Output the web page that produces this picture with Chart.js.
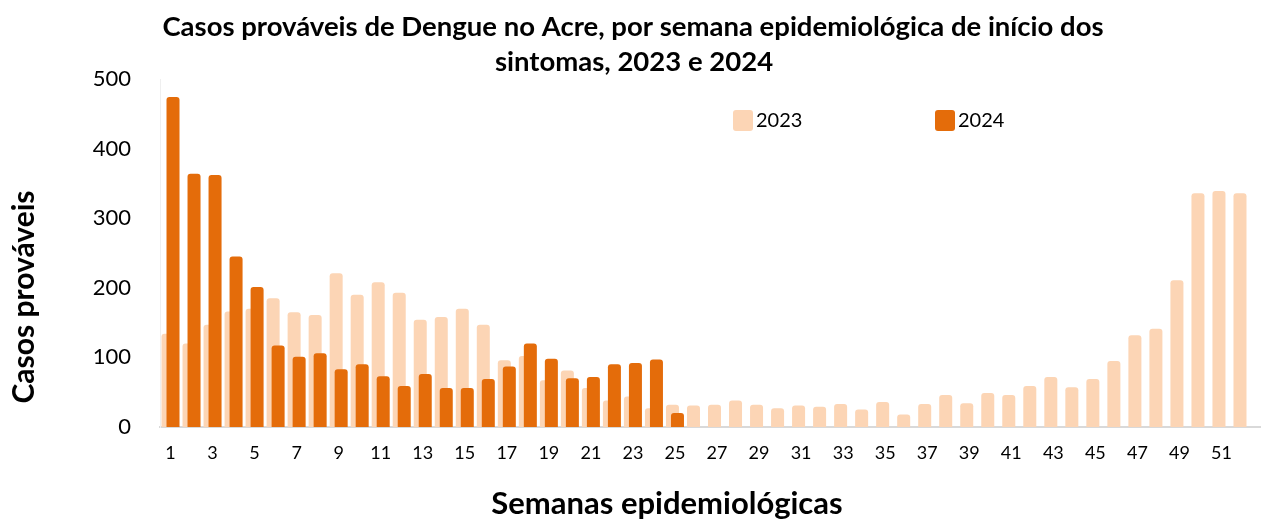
<!DOCTYPE html>
<html>
<head>
<meta charset="utf-8">
<script src="https://cdn.jsdelivr.net/npm/chart.js@4"></script>
<style>
html,body{margin:0;padding:0;background:#fff;}
#wrap{width:1261px;height:520px;position:relative;}
</style>
</head>
<body>
<div id="wrap"><canvas id="c"></canvas></div>
<script>
const weeks = ["1","2","3","4","5","6","7","8","9","10","11","12","13","14","15","16","17","18","19","20","21","22","23","24","25","26","27","28","29","30","31","32","33","34","35","36","37","38","39","40","41","42","43","44","45","46","47","48","49","50","51","52"];
const cases2023 = [134,120,147,166,170,185,165,161,221,190,208,193,154,158,170,147,96,102,67,81,56,38,44,27,32,31,32,38,32,27,31,29,33,25,36,18,33,46,34,49,46,59,72,57,69,95,132,141,211,336,339,336];
const cases2024 = [474,364,362,245,201,117,101,106,83,90,73,59,76,56,56,69,87,120,98,70,72,90,92,97,20];
const yTicks = [0,100,200,300,400,500];
const seriesNames = ["2023","2024"];
const titleLines = ["Casos prováveis de Dengue no Acre, por semana epidemiológica de início dos","sintomas, 2023 e 2024"];
const xTitle = "Semanas epidemiológicas";
const yTitle = "Casos prováveis";

const C2023 = "#FCD5B5";
const C2024 = "#E46C0A";
const FONT = "Lato, 'Open Sans', sans-serif";

// draw 2023 (dataset 0) behind 2024 while keeping it in the left slot
const backFirst = {
  id: "backFirst",
  beforeDatasetsDraw(chart) {
    const meta = chart.getDatasetMeta(0);
    if (meta && !meta.hidden) meta.controller.draw();
  },
  beforeDatasetDraw(chart, args) {
    if (args.index === 0) return false;
  }
};

const decor = {
  id: "decor",
  beforeDatasetsDraw(chart) {
    const ctx = chart.ctx;
    const ca = chart.chartArea;
    ctx.save();
    ctx.strokeStyle = "#D9D9D9";
    ctx.lineWidth = 2;
    ctx.beginPath();
    ctx.moveTo(ca.right - 2, ca.bottom);
    ctx.lineTo(chart.width, ca.bottom);
    ctx.stroke();
    ctx.restore();
  },
  afterDraw(chart) {
    const ctx = chart.ctx;
    ctx.save();
    ctx.fillStyle = "#000";
    ctx.textAlign = "center";
    ctx.textBaseline = "middle";
    ctx.font = "bold 27.5px " + FONT;
    ctx.fillText(titleLines[0], 633, 27);
    ctx.fillText(titleLines[1], 634, 62);
    ctx.font = "bold 31px " + FONT;
    ctx.fillText(xTitle, 667, 504);
    ctx.font = "bold 30px " + FONT;
    ctx.save();
    ctx.translate(24, 297);
    ctx.rotate(-Math.PI / 2);
    ctx.fillText(yTitle, 0, 0);
    ctx.restore();
    const items = [{t: seriesNames[0], c: C2023, x: 733}, {t: seriesNames[1], c: C2024, x: 935}];
    ctx.font = "20px " + FONT;
    ctx.textAlign = "left";
    items.forEach(it => {
      ctx.fillStyle = it.c;
      ctx.beginPath();
      ctx.roundRect(it.x, 110, 20, 21, 3);
      ctx.fill();
      ctx.fillStyle = "#000";
      ctx.fillText(it.t, it.x + 23, 121);
    });
    ctx.restore();
  }
};

new Chart(document.getElementById("c"), {
  type: "bar",
  data: {
    labels: weeks,
    datasets: [
      {label: seriesNames[0], data: cases2023, backgroundColor: C2023, borderRadius: {topLeft: 3, topRight: 3}, borderSkipped: "start"},
      {label: seriesNames[1], data: cases2024, backgroundColor: C2024, borderRadius: {topLeft: 3, topRight: 3}, borderSkipped: "start"}
    ]
  },
  options: {
    responsive: true,
    maintainAspectRatio: false,
    animation: false,
    layout: {padding: {top: 79, right: 8, left: 0, bottom: 0}},
    datasets: {bar: {categoryPercentage: 0.476, barPercentage: 2.6, grouped: true}},
    plugins: {legend: {display: false}, title: {display: false}, tooltip: {enabled: false}},
    scales: {
      x: {
        grid: {display: false, drawTicks: false},
        border: {display: true, color: "#D9D9D9", width: 2},
        ticks: {
          autoSkip: false, maxRotation: 0, padding: 15, color: "#000",
          font: {family: FONT, size: 18},
          callback: function(v, i) { return i % 2 === 0 ? weeks[i] : ""; }
        },
        afterFit(scale) { scale.height = 93; }
      },
      y: {
        min: 0, max: 500,
        afterBuildTicks(scale) { scale.ticks = yTicks.map(v => ({value: v})); },
        grid: {display: false, drawTicks: false},
        border: {display: true, color: "#EFEFEF", width: 1},
        ticks: {padding: 29, color: "#000", font: {family: FONT, size: 22}},
        afterFit(scale) { scale.width = 160; }
      }
    }
  },
  plugins: [backFirst, decor]
});
</script>
</body>
</html>
